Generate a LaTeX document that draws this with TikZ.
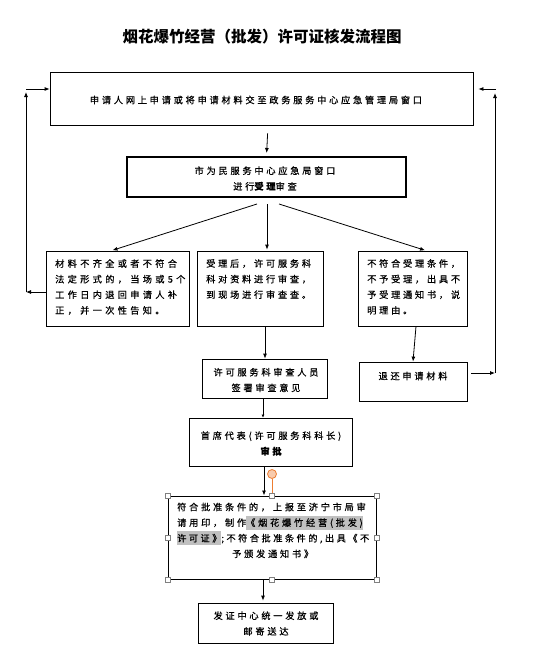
\documentclass[tikz,border=0pt]{standalone}
\usepackage{fontspec}
\usetikzlibrary{arrows.meta,calc}
\newfontfamily\cjk[LetterSpace=30,FakeBold=0.7]{Noto Sans CJK SC}
\newfontfamily\cjkw[LetterSpace=36,FakeBold=0.7]{Noto Sans CJK SC}
\newfontfamily\cjkn[LetterSpace=27,FakeBold=0.7]{Noto Sans CJK SC}
\newfontfamily\cjkt{Noto Sans CJK SC}
\definecolor{hlgray}{HTML}{C0C0C0}
\definecolor{hdlorange}{HTML}{ED7D31}
\definecolor{hdlfill}{HTML}{F8CBAD}
\newcommand\hlt[1]{{\setlength\fboxsep{0pt}\colorbox{hlgray}{\rule[-3.5pt]{0pt}{14pt}#1}}}
\tikzset{
  box/.style={draw, line width=0.8pt, inner sep=0pt},
  txt/.style={inner sep=0pt, font=\cjk\fontsize{9.2}{15.6}\selectfont},
  arr/.style={line width=0.8pt, -{Latex[length=5pt,width=4pt]}},
  hdl/.style={draw=gray, fill=white, line width=0.6pt, minimum size=5pt, inner sep=0pt},
}
\begin{document}
\begin{tikzpicture}[x=1pt,y=-1pt]
\useasboundingbox (0,0) rectangle (533,661);
% title
\node[inner sep=0pt, font=\cjkt\bfseries\fontsize{15.5}{18}\selectfont] (title) at (262,37) {烟花爆竹经营（批发）许可证核发流程图};
% boxes
\node[box, minimum width=423, minimum height=53] (b1) at (261.5,98.5) {};
\node[txt] (t1) at (256,100) {申请人网上申请或将申请材料交至政务服务中心应急管理局窗口};
\node[box, line width=2pt, minimum width=279, minimum height=40] (b2) at (266.5,177) {};
\node[txt, align=center] (t2) at (265,178.5) {市为民服务中心应急局窗口\\进行{\bfseries 受理}审查};
\node[box, minimum width=143, minimum height=75] (b3a) at (117.5,288.5) {};
\node[txt, font=\cjkw\fontsize{9.2}{15.6}\selectfont, align=left, anchor=north west] (t3a) at (55,259) {材料不齐全或者不符合\\法定形式的，当场或5个\\工作日内退回申请人补\\正，并一次性告知。};
\node[box, minimum width=126, minimum height=75] (b3b) at (260,288.5) {};
\node[txt, align=left, anchor=north west] (t3b) at (206,259) {受理后，许可服务科\\科对资料进行审查，\\到现场进行审查查。};
\node[box, minimum width=109, minimum height=75] (b3c) at (412.5,288.5) {};
\node[txt, align=left, anchor=north west] (t3c) at (367,259) {不符合受理条件，\\不予受理，出具不\\予受理通知书，说\\明理由。};
\node[box, minimum width=125, minimum height=39] (b4) at (264.5,378.5) {};
\node[txt, align=center] (t4) at (266,380) {许可服务科审查人员\\签署审查意见};
\node[box, minimum width=108, minimum height=39] (b5) at (413,381.5) {};
\node[txt] (t5) at (413,376) {退还申请材料};
\node[box, minimum width=163, minimum height=48] (b6) at (270.5,442) {};
\node[txt, align=center] (t6) at (271,443.5) {首席代表(许可服务科科长)\\{\bfseries 审批}};
\node[box, line width=1pt, minimum width=208, minimum height=83] (b7) at (272,537.5) {};
\node[txt, align=left, anchor=north west] (t7) at (177,502.5) {符合批准条件的，上报至济宁市局审\\请用印，制作\hlt{《烟花爆竹经营(批发)}\\{\cjkn\hlt{许可证》};不符合批准条件的,出具《不}\\\hspace*{55pt}予颁发通知书》};
\node[box, minimum width=135, minimum height=40] (b8) at (265.5,623) {};
\node[txt, align=center] (t8) at (266,623.5) {发证中心统一发放或\\邮寄送达};
% connectors
\draw[arr, shorten <=8pt, shorten >=3pt] ($(b1.south)+(6.5,0)$) -- (b2.north);
\draw[arr, shorten >=1pt] ($(b2.south)+(-9.5,6)$) -- ($(b3a.north)+(-6,0)$);
\draw[arr, shorten >=1pt] ($(b2.south)+(0.5,6)$) -- ($(b3b.north)+(7,0)$);
\draw[arr, shorten >=1pt] ($(b2.south)+(12.5,6)$) -- ($(b3c.north)+(13.5,0)$);
\draw[arr] ($(b3b.south)+(5,0)$) -- ($(b4.north)+(0.5,0)$);
\draw[arr] ($(b3c.south)+(3.5,0)$) -- (b5.north);
\draw[line width=0.8pt, -{Latex[length=3pt,width=3pt]}] ($(b4.south)+(-1.5,0)$) -- ($(b6.north)+(-7.5,0)$);
\draw[arr] ($(b6.south)+(-6.5,0)$) -- ($(b7.north)+(-8,0)$);
\draw[arr, shorten >=2pt] ($(b7.south)+(-9,0)$) -- ($(b8.north)+(-2.5,0)$);
% left loop
\coordinate (lb) at (26,292);
\coordinate (lt) at (26,89);
\draw[arr] (b3a.west |- lb) -- (lb);
\draw[arr] (lb) -- ($(lt)+(0,3)$);
\draw[arr] (lt) -- (b1.west |- lt);
% right loop
\coordinate (rb) at (495,373);
\coordinate (rt) at (496,89);
\draw[arr] ($(b5.east |- rb)+(4,0)$) -- (rb);
\draw[arr] (rb) -- ($(rt)+(-1,4)$);
\draw[arr] (rt) -- ($(b1.east |- rt)+(5,0)$);
% selection handles of b7
\node[circle, draw=hdlorange, fill=hdlfill, line width=0.8pt, minimum size=9pt, inner sep=0pt] (hc) at (272,474) {};
\draw[hdlorange, line width=0.8pt] (hc.south) -- (b7.north);
\foreach \a in {north west,north,north east,west,east,south west,south,south east}
  \node[hdl] at (b7.\a) {};
\end{tikzpicture}
\end{document}
